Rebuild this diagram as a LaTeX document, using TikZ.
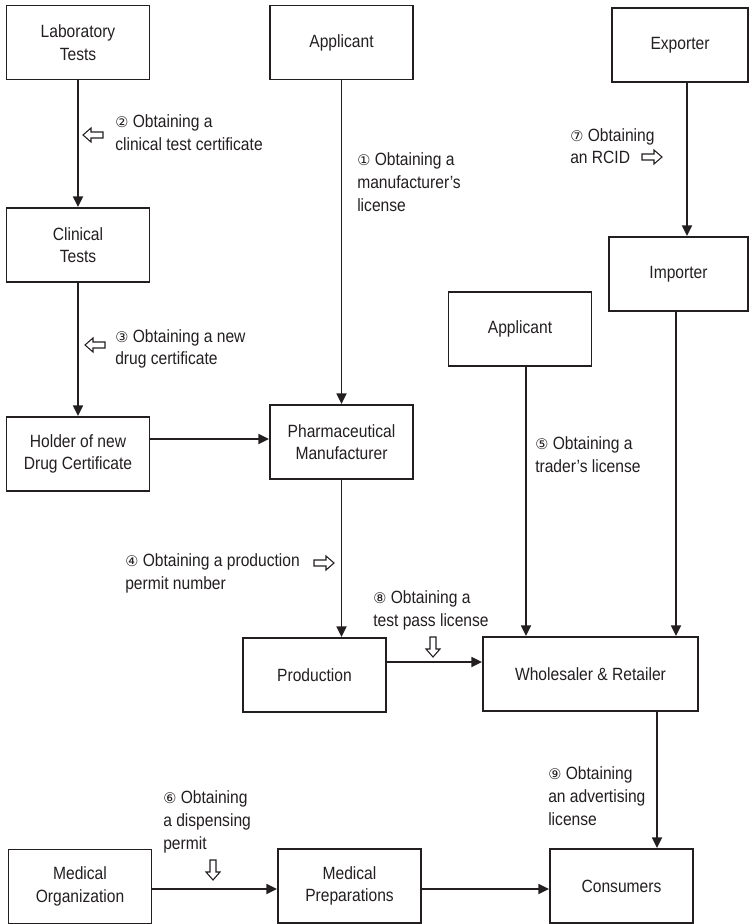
\documentclass[tikz,border=0pt]{standalone}
\usepackage{fontspec}
\setmainfont{Liberation Sans}[FakeStretch=0.88]
\newfontfamily\circf{DejaVu Sans}
\usetikzlibrary{arrows.meta}
\definecolor{txt}{HTML}{231F20}
\newcommand\fs{\fontsize{13.3}{17}\selectfont}
\newcommand\cn[1]{{\circf\fontsize{11}{11}\selectfont #1}}
\tikzset{
  hollow/.pic={\draw[line width=0.8pt, fill=white, draw=txt]
    (-10,-3) -- (2,-3) -- (2,-7) -- (10,0) -- (2,7) -- (2,3) -- (-10,3) -- cycle;}
}
\begin{document}
\begin{tikzpicture}[x=0.75pt,y=-0.75pt,
  box/.style={draw=txt, line width=1.4pt, minimum width=107.25pt, minimum height=55.5pt,
    align=center, inner sep=2pt, text=txt, font=\fs},
  arr/.style={draw=txt, line width=1.3pt, -{Triangle[length=8pt,width=7.5pt]}},
  lbl/.style={align=left, anchor=west, inner sep=0pt, text=txt, font=\fs}]
\useasboundingbox (0,0) rectangle (750,924);

% boxes
\node[box] (lab) at (78,42.5) {Laboratory\\Tests};
\node[box] (app1) at (341.5,42.5) {Applicant};
\node[box, minimum width=102pt] (exp) at (680,45) {Exporter};
\node[box] (clin) at (78,245) {Clinical\\Tests};
\node[box, minimum width=104.25pt] (imp) at (678.5,274) {Importer};
\node[box] (app2) at (520,329) {Applicant};
\node[box] (hold) at (78,454) {Holder of new\\Drug Certificate};
\node[box] (pharm) at (341.5,442) {Pharmaceutical\\Manufacturer};
\node[box] (prod) at (314.5,675) {Production};
\node[box, minimum width=161.25pt] (whl) at (590.5,674) {Wholesaler \& Retailer};
\node[box] (morg) at (80,886.5) {Medical\\Organization};
\node[box] (mprep) at (349.5,886) {Medical\\Preparations};
\node[box] (cons) at (621.5,886) {Consumers};

% connectors
\coordinate (cx1) at (687,0);
\coordinate (cx2) at (526,0);
\coordinate (cx3) at (676,0);
\coordinate (cx4) at (657,0);
\coordinate (cy1) at (0,439);
\coordinate (cy2) at (0,662);
\coordinate (cy3) at (0,889);
\draw[arr] (lab.south) -- (clin.north);
\draw[arr] (clin.south) -- (hold.north);
\draw[arr] (app1.south) -- (pharm.north);
\draw[arr] (exp.south -| cx1) -- (imp.north -| cx1);
\draw[arr] (hold.east |- cy1) -- (pharm.west |- cy1);
\draw[arr] (pharm.south) -- (pharm.south |- prod.north);
\draw[arr] (prod.east |- cy2) -- (whl.west |- cy2);
\draw[arr] (app2.south -| cx2) -- (whl.north -| cx2);
\draw[arr] (imp.south -| cx3) -- (whl.north -| cx3);
\draw[arr] (whl.south -| cx4) -- (cons.north -| cx4);
\draw[arr] (morg.east |- cy3) -- (mprep.west |- cy3);
\draw[arr] (mprep.east |- cy3) -- (cons.west |- cy3);

% labels
\node[lbl] (l1) at (357,182) {\cn{①} Obtaining a\\manufacturer’s\\license};
\node[lbl] (l2) at (115,132.5) {\cn{②} Obtaining a\\clinical test certificate};
\node[lbl] (l3) at (115,349) {\cn{③} Obtaining a new\\drug certificate};
\node[lbl] (l4) at (125,573.5) {\cn{④} Obtaining a production\\permit number};
\node[lbl] (l5) at (535,454.5) {\cn{⑤} Obtaining a\\trader’s license};
\node[lbl] (l6) at (163,822) {\cn{⑥} Obtaining\\a dispensing\\permit};
\node[lbl] (l7) at (570,146) {\cn{⑦} Obtaining\\an RCID};
\node[lbl] (l8) at (373,610.5) {\cn{⑧} Obtaining a\\test pass license};
\node[lbl] (l9) at (548,796) {\cn{⑨} Obtaining\\an advertising\\license};

% hollow arrows
\pic[rotate=180] at (93,135) {hollow};
\pic[rotate=180] at (95,345) {hollow};
\pic at (324,563) {hollow};
\pic at (652,157) {hollow};
\pic[rotate=-90] at (433,647) {hollow};
\pic[rotate=-90] at (213,870) {hollow};
\end{tikzpicture}
\end{document}
